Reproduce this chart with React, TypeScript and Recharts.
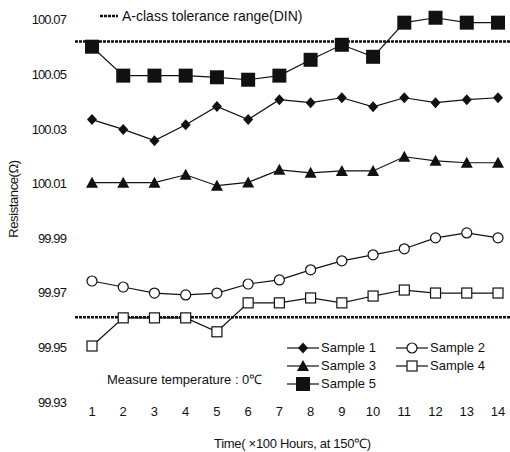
import { LineChart, Line, XAxis, YAxis, ReferenceLine, Legend, Label } from 'recharts';

// time in units of 100 hours at 150°C
const hours = [1, 2, 3, 4, 5, 6, 7, 8, 9, 10, 11, 12, 13, 14];

// resistance readings (Ω), measured at 0°C
const sample1 = [100.0334, 100.0298, 100.0257, 100.0315, 100.0382, 100.0334, 100.0407, 100.0396, 100.0414, 100.0381, 100.0414, 100.0396, 100.0407, 100.0414];
const sample2 = [99.9743, 99.9721, 99.9699, 99.9692, 99.9699, 99.9732, 99.9747, 99.9784, 99.9817, 99.9839, 99.9861, 99.9901, 99.9919, 99.9901];
const sample3 = [100.0103, 100.0103, 100.0103, 100.0132, 100.0092, 100.0104, 100.015, 100.0139, 100.0146, 100.0146, 100.0198, 100.0183, 100.0176, 100.0176];
const sample4 = [99.9505, 99.9608, 99.9608, 99.9608, 99.9557, 99.9663, 99.9663, 99.9681, 99.9663, 99.9688, 99.971, 99.9699, 99.9699, 99.9699];
const sample5 = [100.0601, 100.0495, 100.0495, 100.0495, 100.0489, 100.048, 100.0495, 100.0553, 100.0608, 100.0564, 100.0689, 100.0707, 100.0689, 100.0689];

const yTicks = [99.93, 99.95, 99.97, 99.99, 100.01, 100.03, 100.05, 100.07];
const toleranceUpper = 100.062;
const toleranceLower = 99.961;

const data = hours.map((t, i) => ({
  t,
  s1: sample1[i],
  s2: sample2[i],
  s3: sample3[i],
  s4: sample4[i],
  s5: sample5[i],
}));

const FONT = '"Liberation Sans", Arial, sans-serif';
const INK = '#111';

type Shape = 'diamond' | 'circle' | 'triangle' | 'openSquare' | 'square';

const marker = (shape: Shape, cx: number, cy: number, key?: string) => {
  switch (shape) {
    case 'diamond':
      return <polygon key={key} points={`${cx},${cy - 5.5} ${cx + 5},${cy} ${cx},${cy + 5.5} ${cx - 5},${cy}`} fill={INK} />;
    case 'circle':
      return <circle key={key} cx={cx} cy={cy} r={5} fill="#fff" stroke={INK} strokeWidth={1.2} />;
    case 'triangle':
      return <polygon key={key} points={`${cx},${cy - 6} ${cx + 6},${cy + 5} ${cx - 6},${cy + 5}`} fill={INK} />;
    case 'openSquare':
      return <rect key={key} x={cx - 5} y={cy - 5} width={10} height={10} fill="#fff" stroke={INK} strokeWidth={1.2} />;
    default:
      return <rect key={key} x={cx - 7} y={cy - 7} width={14} height={14} fill={INK} />;
  }
};

const series: { key: string; name: string; shape: Shape }[] = [
  { key: 's1', name: 'Sample 1', shape: 'diamond' },
  { key: 's2', name: 'Sample 2', shape: 'circle' },
  { key: 's3', name: 'Sample 3', shape: 'triangle' },
  { key: 's4', name: 'Sample 4', shape: 'openSquare' },
  { key: 's5', name: 'Sample 5', shape: 'square' },
];

const renderLegend = () => (
  <div style={{ display: 'grid', gridTemplateColumns: '109px 100px', rowGap: 1, fontFamily: FONT, fontSize: 13, color: INK }}>
    {series.map((s) => (
      <div key={s.key} style={{ display: 'flex', alignItems: 'center', height: 17 }}>
        <svg width={32} height={16} style={{ marginRight: 2 }}>
          <line x1={0} y1={8} x2={32} y2={8} stroke={INK} strokeWidth={1.2} />
          {marker(s.shape, 16, 8)}
        </svg>
        <span>{s.name}</span>
      </div>
    ))}
  </div>
);

const App = () => {
  return (
    <div style={{ position: 'absolute', left: 0, top: 0, width: 510, height: 452, background: '#fff' }}>
      <LineChart width={510} height={452} data={data} margin={{ top: 6, right: 0, left: 0, bottom: 0 }}>
        <XAxis
          dataKey="t"
          type="number"
          domain={[1, 14]}
          ticks={hours}
          padding={{ left: 17, right: 12 }}
          axisLine={false}
          tickLine={false}
          tickSize={0}
          tickMargin={5}
          height={50}
          tick={{ fill: INK, fontSize: 13, fontFamily: FONT }}
        >
          <Label value="Time( ×100 Hours, at 150℃)" position="insideBottom" offset={4} fill={INK} fontSize={13} fontFamily={FONT} style={{ letterSpacing: -0.3 }} />
        </XAxis>
        <YAxis
          type="number"
          domain={[99.93, 100.075]}
          ticks={yTicks}
          allowDataOverflow
          width={75}
          axisLine={false}
          tickLine={false}
          tickSize={0}
          tickMargin={9}
          tickFormatter={(v: number) => v.toFixed(2)}
          tick={{ fill: INK, fontSize: 13, fontFamily: FONT, letterSpacing: -0.9 }}
        >
          <Label value="Resistance(Ω)" angle={-90} position="insideLeft" offset={13} dy={-5} fill={INK} fontSize={13} fontFamily={FONT} style={{ textAnchor: 'middle', letterSpacing: -0.4 }} />
        </YAxis>
        <ReferenceLine y={toleranceUpper} stroke={INK} strokeWidth={2.5} strokeDasharray="3 1" />
        <ReferenceLine y={toleranceLower} stroke={INK} strokeWidth={2.5} strokeDasharray="3 1" />
        {series.map((s) => (
          <Line
            key={s.key}
            dataKey={s.key}
            name={s.name}
            type="linear"
            stroke={INK}
            strokeWidth={1.2}
            isAnimationActive={false}
            dot={(p: any) => marker(s.shape, p.cx, p.cy, `${s.key}-${p.index}`)}
            activeDot={false}
          />
        ))}
        <Legend
          layout="vertical"
          align="center"
          verticalAlign="middle"
          content={renderLegend}
          wrapperStyle={{ position: 'absolute', left: 287, top: 339, width: 215, height: 54 }}
        />
      </LineChart>
      <div style={{ position: 'absolute', left: 100, top: 8, display: 'flex', alignItems: 'center', fontFamily: FONT, fontSize: 14, color: INK, pointerEvents: 'none' }}>
        <svg width={18} height={6} style={{ marginRight: 4 }}>
          <line x1={0} y1={3} x2={18} y2={3} stroke={INK} strokeWidth={2.5} strokeDasharray="3 1" />
        </svg>
        <span>A-class tolerance range(DIN)</span>
      </div>
      <div style={{ position: 'absolute', left: 107, top: 370, fontFamily: FONT, fontSize: 13, color: INK, pointerEvents: 'none' }}>
        Measure temperature : 0℃
      </div>
    </div>
  );
};

export default App;
